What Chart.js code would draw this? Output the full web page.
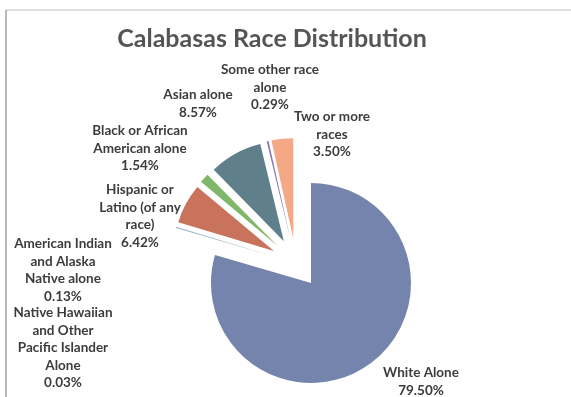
<!DOCTYPE html>
<html>
<head>
<meta charset="utf-8">
<script src="https://cdn.jsdelivr.net/npm/chart.js@4/dist/chart.umd.min.js"></script>
<style>
  html, body { margin: 0; padding: 0; background: #fff; }
  canvas { display: block; }
</style>
</head>
<body>
<canvas id="raceChart" width="571" height="397"></canvas>
<script>
const groups = [
    'White Alone',
    'American Indian and Alaska Native alone',
    'Native Hawaiian and Other Pacific Islander Alone',
    'Hispanic or Latino (of any race)',
    'Black or African American alone',
    'Asian alone',
    'Some other race alone',
    'Two or more races'
];
const shares = [79.50, 0.13, 0.03, 6.42, 1.54, 8.57, 0.29, 3.50];

// label text, already wrapped the way it is printed
const labelLines = [
    ['White Alone'],
    ['American Indian', 'and Alaska', 'Native alone'],
    ['Native Hawaiian', 'and Other', 'Pacific Islander', 'Alone'],
    ['Hispanic or', 'Latino (of any', 'race)'],
    ['Black or African', 'American alone'],
    ['Asian alone'],
    ['Some other race', 'alone'],
    ['Two or more', 'races']
];

const sliceColors = ['#7484ad', '#8fb6c8', '#c9a0a8', '#c9735c', '#80b76b', '#5f7f8a', '#8a78b0', '#f4a886'];

// where each label block sits: centre x, first line y
const labelSpots = [[421, 373], [63, 244], [63, 313], [140, 190], [140, 131], [198, 95], [270, 70], [332, 117]];

const explode = {
    id: 'explode',
    afterDatasetUpdate(chart, args) {
        const d = chart.options.plugins.explode.distance;
        args.meta.data.forEach(arc => {
            const mid = (arc.startAngle + arc.endAngle) / 2;
            arc.x += Math.cos(mid) * d;
            arc.y += Math.sin(mid) * d;
        });
    }
};

const frame = {
    id: 'frame',
    beforeDraw(chart) {
        const c = chart.ctx;
        c.save();
        c.fillStyle = '#fff';
        c.fillRect(0, 0, chart.width, chart.height);
        c.lineWidth = 1.2;
        c.strokeStyle = '#bdbdbd';
        c.beginPath();
        c.moveTo(6, 10);
        c.lineTo(chart.width, 10);
        c.stroke();
        c.strokeStyle = '#8a8a8a';
        c.beginPath();
        c.moveTo(6, 10);
        c.lineTo(6, chart.height);
        c.stroke();
        c.restore();
    }
};

const texts = {
    id: 'texts',
    afterDraw(chart) {
        const c = chart.ctx;
        c.save();
        c.textAlign = 'center';
        c.textBaseline = 'middle';
        c.fillStyle = '#555555';
        c.font = 'bold 25px Lato';
        c.fillText('Calabasas Race Distribution', 272, 39);

        c.fillStyle = '#3c3c3c';
        c.font = 'bold 13.5px Lato';
        labelLines.forEach((lines, i) => {
            const [x, y] = labelSpots[i];
            const all = lines.concat(shares[i].toFixed(2) + '%');
            all.forEach((t, k) => c.fillText(t, x, y + k * 17.4));
        });
        c.restore();
    }
};

new Chart(document.getElementById('raceChart'), {
    type: 'pie',
    data: {
        labels: groups,
        datasets: [{
            data: shares,
            backgroundColor: sliceColors,
            borderWidth: 0
        }]
    },
    options: {
        responsive: false,
        animation: false,
        radius: 100,
        layout: { padding: { left: 21, right: 0, top: 129, bottom: 0 } },
        plugins: {
            legend: { display: false },
            tooltip: { enabled: false },
            explode: { distance: 25 }
        }
    },
    plugins: [frame, explode, texts]
});
</script>
</body>
</html>
